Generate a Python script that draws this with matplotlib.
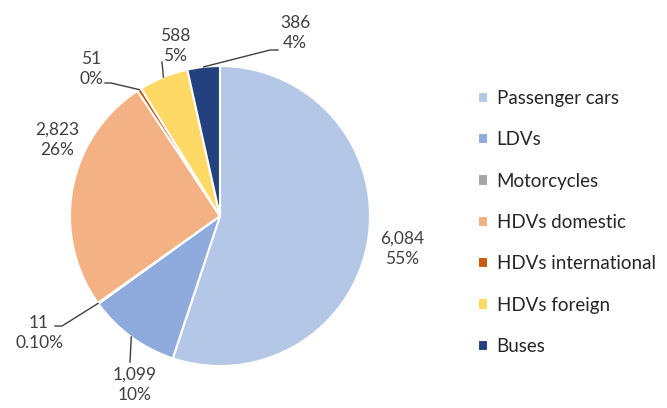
import numpy as np
import matplotlib
matplotlib.use("Agg")
import matplotlib.pyplot as plt

categories = ["Passenger cars", "LDVs", "Motorcycles", "HDVs domestic",
              "HDVs international", "HDVs foreign", "Buses"]
values = [6084, 1099, 11, 2823, 51, 588, 386]
pct_labels = ["55%", "10%", "0.10%", "26%", "0%", "5%", "4%"]
colors = ["#B4C7E7", "#8FAADC", "#A5A5A5", "#F4B183", "#C55A11", "#FFD966", "#23417E"]

W, H = 667, 408
# label layout in pixel coords (top-left origin): text centre, leader elbow, leader end
label_pos = [(402, 249), (135, 385), (39, 333), (57, 140), (91, 69), (175, 46), (295, 33)]
leader_mid = [None, None, (62, 326), None, (111, 83), None, (270, 50)]
leader_end = [None, (130, 362), (55, 326), None, (105, 83), (162, 62), (278, 50)]

plt.rcParams["font.family"] = ["Lato", "DejaVu Sans"]
text_color = "#404040"

fig = plt.figure(figsize=(W / 100, H / 100), dpi=100)
ax = fig.add_axes([0, 0, 1, 1])
ax.axis("off")


def px(x, y):
    return x, H - y


cx, cy, r = 220, 216, 150
wedges, _ = ax.pie(values, colors=colors, startangle=90, counterclock=False,
                   center=px(cx, cy), radius=r,
                   wedgeprops=dict(edgecolor="white", linewidth=1.5))
ax.set_xlim(0, W)
ax.set_ylim(0, H)
ax.set_aspect("equal")

for i, w in enumerate(wedges):
    txt = f"{values[i]:,}\n{pct_labels[i]}"
    ax.text(*px(*label_pos[i]), txt, ha="center", va="center", fontsize=12.5,
            color=text_color, linespacing=1.35)
    if leader_end[i] is not None:
        ang = np.deg2rad((w.theta1 + w.theta2) / 2)
        start = (w.center[0] + r * np.cos(ang), w.center[1] + r * np.sin(ang))
        pts = [start]
        if leader_mid[i] is not None:
            pts.append(px(*leader_mid[i]))
        pts.append(px(*leader_end[i]))
        xs, ys = zip(*pts)
        ax.plot(xs, ys, color=text_color, lw=1)

ax.legend(wedges, categories, loc="center left",
          bbox_to_anchor=(478 / W, (H - 222.5) / H), frameon=False,
          borderpad=0, borderaxespad=0, fontsize=13.5, labelcolor="#262626",
          handlelength=0.55, handleheight=0.55, handletextpad=0.45,
          labelspacing=1.3)

fig.savefig("out.png", dpi=100)
